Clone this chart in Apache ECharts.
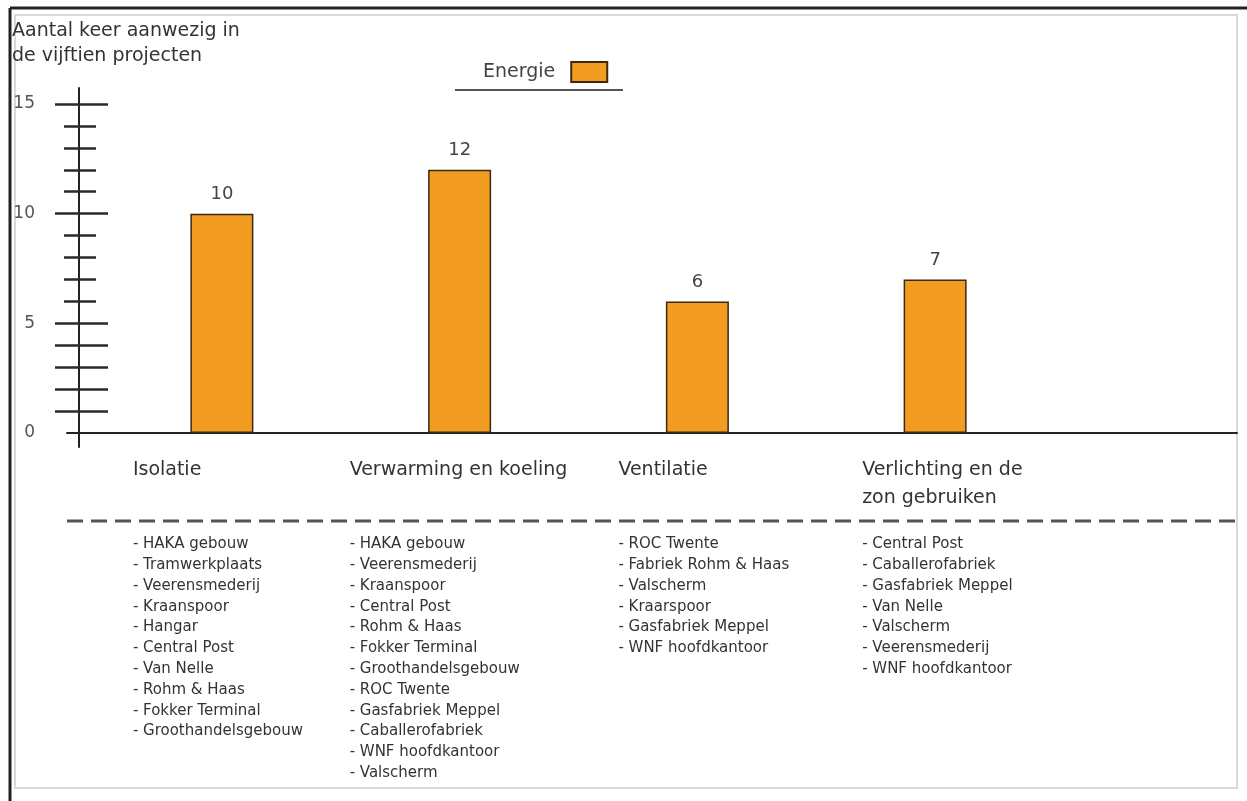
<!DOCTYPE html>
<html>
<head>
<meta charset="utf-8">
<script src="https://cdn.jsdelivr.net/npm/echarts@6/dist/echarts.min.js"></script>
<style>
  html, body { margin: 0; padding: 0; background: #fff; }
  #chart { width: 1247px; height: 801px; }
</style>
</head>
<body>
<div id="chart"></div>
<script>
// Maatregelen en hoe vaak ze voorkomen in de vijftien projecten
const categories = ['Isolatie', 'Verwarming en koeling', 'Ventilatie', 'Verlichting en de\nzon gebruiken'];
const counts = [10, 12, 6, 7];
const projects = [
  ['HAKA gebouw', 'Tramwerkplaats', 'Veerensmederij', 'Kraanspoor', 'Hangar', 'Central Post', 'Van Nelle', 'Rohm & Haas', 'Fokker Terminal', 'Groothandelsgebouw'],
  ['HAKA gebouw', 'Veerensmederij', 'Kraanspoor', 'Central Post', 'Rohm & Haas', 'Fokker Terminal', 'Groothandelsgebouw', 'ROC Twente', 'Gasfabriek Meppel', 'Caballerofabriek', 'WNF hoofdkantoor', 'Valscherm'],
  ['ROC Twente', 'Fabriek Rohm & Haas', 'Valscherm', 'Kraarspoor', 'Gasfabriek Meppel', 'WNF hoofdkantoor'],
  ['Central Post', 'Caballerofabriek', 'Gasfabriek Meppel', 'Van Nelle', 'Valscherm', 'Veerensmederij', 'WNF hoofdkantoor']
];
const seriesName = 'Energie';
const tickLabels = [0, 5, 10, 15];
const longTicks = [1, 2, 3, 4, 5, 10, 15];
const shortTicks = [6, 7, 8, 9, 11, 12, 13, 14];

const FONT = 'DejaVu Sans';
const ORANGE = '#F29D22';
const Y_MIN = -0.64, Y_MAX = 15.73;

// width of each label block around its category centre (text is left-aligned inside)
const labelWidths = [178, 220, 158, 146];

function richFor(fontSize, lineHeight, color) {
  const r = {};
  labelWidths.forEach((w, i) => {
    r['c' + i] = { width: w, align: 'left', fontSize, lineHeight, color, fontFamily: FONT };
  });
  return r;
}
function wrap(lines, idx) {
  return lines.map(l => '{c' + idx + '|' + l + '}').join('\n');
}

function yTickAxis(values, inside, length, extra) {
  return Object.assign({
    type: 'value', gridIndex: 0, min: Y_MIN, max: Y_MAX, position: 'left', offset: 24,
    axisLine: { show: false },
    axisTick: { show: true, inside, length, customValues: values, lineStyle: { color: '#2a2a2a', width: 2.5 } },
    axisLabel: { show: false },
    splitLine: { show: false }
  }, extra || {});
}

const chart = echarts.init(document.getElementById('chart'), null, { renderer: 'canvas' });

chart.setOption({
  backgroundColor: '#fff',
  animation: false,
  title: {
    text: 'Aantal keer aanwezig in\nde vijftien projecten',
    left: 7, top: 14,
    textStyle: { fontFamily: FONT, fontSize: 19, fontWeight: 'normal', color: '#333', lineHeight: 25 }
  },
  legend: {
    data: [seriesName],
    left: 478, top: 56,
    align: 'right',
    icon: 'rect',
    itemWidth: 36, itemHeight: 20, itemGap: 14,
    textStyle: { fontFamily: FONT, fontSize: 19, color: '#444', padding: [0, 11, 0, 0] }
  },
  grid: [
    { left: 103, right: 193, top: 88, bottom: 354 },
    { left: 67, right: 10, top: 88, bottom: 354 }
  ],
  xAxis: [
    {
      type: 'category', gridIndex: 0, data: categories,
      axisLine: { show: false, onZero: true },
      axisTick: { show: false },
      axisLabel: {
        margin: 9,
        formatter: (v, i) => wrap(v.split('\n'), i),
        rich: richFor(19, 28, '#333')
      }
    },
    {
      type: 'category', gridIndex: 0, data: categories, position: 'bottom',
      axisLine: { show: false, onZero: false },
      axisTick: { show: false },
      axisLabel: {
        margin: 87,
        formatter: (v, i) => wrap(projects[i].map(p => '- ' + p), i),
        rich: richFor(15, 20.8, '#333')
      }
    },
    {
      type: 'value', gridIndex: 1, min: 0, max: 1,
      axisLine: { show: true, onZero: true, lineStyle: { color: '#222', width: 2 } },
      axisTick: { show: false }, axisLabel: { show: false }, splitLine: { show: false }
    }
  ],
  yAxis: [
    yTickAxis(longTicks, true, 29, {
      axisLine: { show: true, onZero: false, lineStyle: { color: '#222', width: 2 } },
      axisLabel: { show: true, customValues: tickLabels, margin: 44, fontFamily: FONT, fontSize: 17, color: '#555' }
    }),
    yTickAxis(longTicks, false, 24),
    yTickAxis(shortTicks, true, 17),
    yTickAxis(shortTicks, false, 15),
    { type: 'value', gridIndex: 1, min: Y_MIN, max: Y_MAX, show: false }
  ],
  series: [{
    name: seriesName,
    type: 'bar',
    xAxisIndex: 0, yAxisIndex: 0,
    data: counts,
    barWidth: 63,
    itemStyle: { color: ORANGE, borderColor: '#3a2a14', borderWidth: 1.5 },
    label: { show: true, position: 'top', distance: 10, fontFamily: FONT, fontSize: 18, color: '#444' }
  }],
  graphic: [
    // frame
    { type: 'rect', shape: { x: 15, y: 15, width: 1222, height: 773 }, style: { fill: null, stroke: '#d9d9d9', lineWidth: 2 }, silent: true },
    { type: 'line', shape: { x1: 10, y1: 8, x2: 1247, y2: 8 }, style: { stroke: '#222', lineWidth: 3 }, silent: true },
    { type: 'line', shape: { x1: 10, y1: 8, x2: 10, y2: 801 }, style: { stroke: '#222', lineWidth: 3 }, silent: true },
    // legend underline
    { type: 'line', shape: { x1: 455, y1: 90, x2: 623, y2: 90 }, style: { stroke: '#555', lineWidth: 2 }, silent: true },
    // separator between measures and project lists
    { type: 'line', shape: { x1: 67, y1: 521, x2: 1237, y2: 521 }, style: { stroke: '#555', lineWidth: 3, lineDash: [16, 8] }, silent: true }
  ]
});
</script>
</body>
</html>
